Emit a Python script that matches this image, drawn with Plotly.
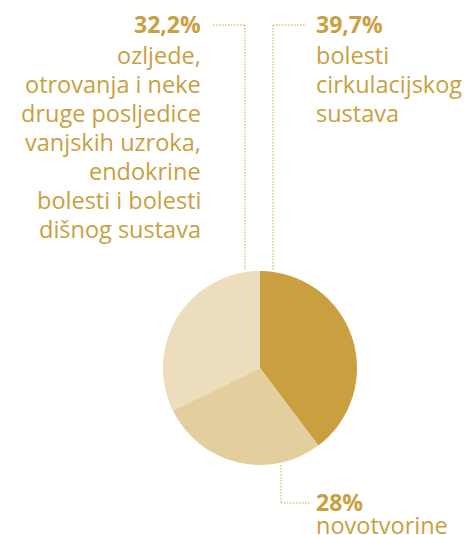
import plotly.graph_objects as go

labels = ["bolesti cirkulacijskog sustava", "novotvorine",
          "ozljede, otrovanja i neke druge posljedice vanjskih uzroka, endokrine bolesti i bolesti dišnog sustava"]
values = [39.7, 28, 32.2]
pct_text = ["39,7%", "28%", "32,2%"]
label_lines = [
    ["bolesti", "cirkulacijskog", "sustava"],
    ["novotvorine"],
    ["ozljede,", "otrovanja i neke", "druge posljedice", "vanjskih uzroka,", "endokrine", "bolesti i bolesti", "dišnog sustava"],
]
colors = ["#C99F3F", "#E3CF9E", "#ECDDBC"]

W, H = 465, 535
gold = "#C99F3F"
line_col = "#DFC386"

fig = go.Figure(go.Pie(
    labels=labels, values=values, sort=False, direction="clockwise", rotation=0,
    marker=dict(colors=colors, line=dict(width=0)), textinfo="none", hoverinfo="none",
    domain=dict(x=[163/W, 357/W], y=[(H-465)/H, (H-271)/H]), showlegend=False,
))

def px(x):
    return x / W

def py(y):
    return 1 - y / H

font = "Open Sans"
FS_PCT, FS_TXT, LH = 23, 23.5, 29
ann = []

def block(x, y_pct, pct, lines, anchor, y_first):
    ann.append(dict(x=px(x), y=py(y_pct), text="<b>" + pct + "</b>", xanchor=anchor, yanchor="middle",
                    font=dict(family=font, size=FS_PCT, color=gold)))
    for i, t in enumerate(lines):
        ann.append(dict(x=px(x), y=py(y_first + i * LH), text=t, xanchor=anchor, yanchor="middle",
                        font=dict(family=font, size=FS_TXT, color=gold)))

block(203, 24, pct_text[2], label_lines[2], "right", 55)
block(314, 24, pct_text[0], label_lines[0], "left", 55)
block(314, 502, pct_text[1], label_lines[1], "left", 525)

for a in ann:
    a.update(xref="paper", yref="paper", showarrow=False)

shapes = []
def seg(x0, y0, x1, y1):
    shapes.append(dict(type="line", xref="paper", yref="paper", x0=px(x0), y0=py(y0), x1=px(x1), y1=py(y1),
                       line=dict(color=line_col, width=1.5, dash="1.5px,1.5px")))
seg(213, 25, 245, 25)
seg(245, 25, 245, 271)
seg(273, 25, 305, 25)
seg(273, 25, 273, 271)
seg(281, 465, 281, 503)
seg(281, 503, 311, 503)

fig.update_layout(width=W, height=H, margin=dict(l=0, r=0, t=0, b=0),
                  paper_bgcolor="white", plot_bgcolor="white",
                  annotations=ann, shapes=shapes)
fig.write_html("out.html", config={"displayModeBar": False},
               post_script="document.body.style.margin='0px';")
